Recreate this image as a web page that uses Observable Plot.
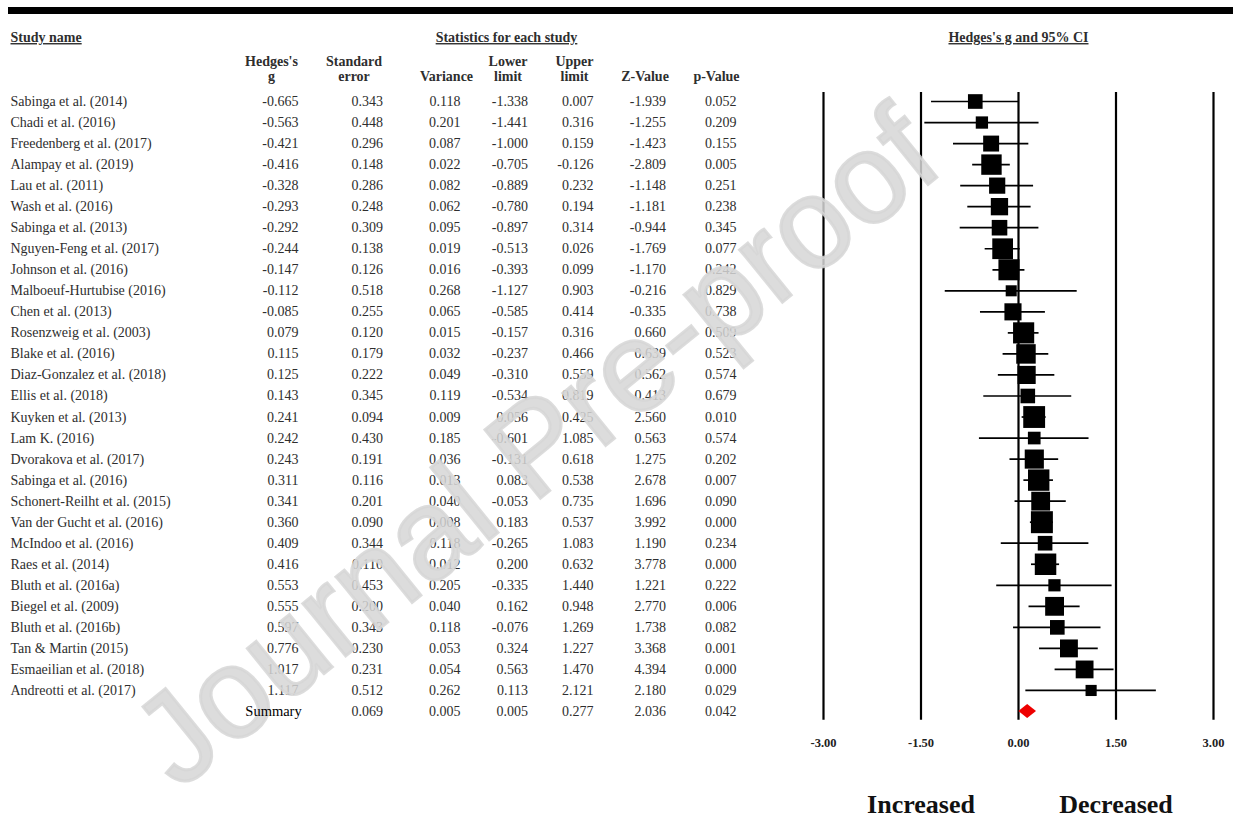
<!DOCTYPE html>
<html>
<head>
<meta charset="utf-8">
<script src="https://cdn.jsdelivr.net/npm/d3@7"></script>
<script src="https://cdn.jsdelivr.net/npm/@observablehq/plot@0.6"></script>
<style>
  body { margin: 0; background: #fff; }
  #wrap { position: relative; width: 1233px; height: 821px; overflow: hidden; background: #fff; }
  #bar { position: absolute; left: 8px; right: 0; top: 7px; height: 7px; background: #000; }
  #table, #top { position: absolute; left: 0; top: 0; }
  #top { pointer-events: none; }
  #forest { position: absolute; left: 800px; top: 0; }
  #wm { position: absolute; left: 535px; top: 446px; transform: translate(-50%, -50%) rotate(-39deg);
        font-family: "Liberation Sans", Arial, sans-serif; font-size: 128px; white-space: nowrap;
        -webkit-text-stroke: 3px rgba(214, 214, 214, 0.85);
        color: rgba(214, 214, 214, 0.85); pointer-events: none; line-height: 1; }
</style>
</head>
<body>
<div id="wrap">
  <div id="bar"></div>
  <div id="table"></div>
  <div id="forest"></div>
  <div id="wm">Journal Pre-proof</div>
  <div id="top"></div>
</div>
<script>
// ---------------- data ----------------
const studies = [
  "Sabinga et al. (2014)", "Chadi et al. (2016)", "Freedenberg et al. (2017)", "Alampay et al. (2019)",
  "Lau et al. (2011)", "Wash et al. (2016)", "Sabinga et al. (2013)", "Nguyen-Feng et al. (2017)",
  "Johnson et al. (2016)", "Malboeuf-Hurtubise (2016)", "Chen et al. (2013)", "Rosenzweig et al. (2003)",
  "Blake et al. (2016)", "Diaz-Gonzalez et al. (2018)", "Ellis et al. (2018)", "Kuyken et al. (2013)",
  "Lam K. (2016)", "Dvorakova et al. (2017)", "Sabinga et al. (2016)", "Schonert-Reilht et al. (2015)",
  "Van der Gucht et al. (2016)", "McIndoo et al. (2016)", "Raes et al. (2014)", "Bluth et al. (2016a)",
  "Biegel et al. (2009)", "Bluth et al. (2016b)", "Tan & Martin (2015)", "Esmaeilian et al. (2018)",
  "Andreotti et al. (2017)", "Summary"
];
const hedgesG = [-0.665,-0.563,-0.421,-0.416,-0.328,-0.293,-0.292,-0.244,-0.147,-0.112,-0.085,0.079,0.115,0.125,0.143,0.241,0.242,0.243,0.311,0.341,0.360,0.409,0.416,0.553,0.555,0.597,0.776,1.017,1.117,0.141];
const stdError = [0.343,0.448,0.296,0.148,0.286,0.248,0.309,0.138,0.126,0.518,0.255,0.120,0.179,0.222,0.345,0.094,0.430,0.191,0.116,0.201,0.090,0.344,0.110,0.453,0.200,0.343,0.230,0.231,0.512,0.069];
const variance = [0.118,0.201,0.087,0.022,0.082,0.062,0.095,0.019,0.016,0.268,0.065,0.015,0.032,0.049,0.119,0.009,0.185,0.036,0.013,0.040,0.008,0.118,0.012,0.205,0.040,0.118,0.053,0.054,0.262,0.005];
const lowerLimit = [-1.338,-1.441,-1.000,-0.705,-0.889,-0.780,-0.897,-0.513,-0.393,-1.127,-0.585,-0.157,-0.237,-0.310,-0.534,0.056,-0.601,-0.131,0.083,-0.053,0.183,-0.265,0.200,-0.335,0.162,-0.076,0.324,0.563,0.113,0.005];
const upperLimit = [0.007,0.316,0.159,-0.126,0.232,0.194,0.314,0.026,0.099,0.903,0.414,0.316,0.466,0.559,0.819,0.425,1.085,0.618,0.538,0.735,0.537,1.083,0.632,1.440,0.948,1.269,1.227,1.470,2.121,0.277];
const zValue = [-1.939,-1.255,-1.423,-2.809,-1.148,-1.181,-0.944,-1.769,-1.170,-0.216,-0.335,0.660,0.639,0.562,0.413,2.560,0.563,1.275,2.678,1.696,3.992,1.190,3.778,1.221,2.770,1.738,3.368,4.394,2.180,2.036];
const pValue = [0.052,0.209,0.155,0.005,0.251,0.238,0.345,0.077,0.242,0.829,0.738,0.509,0.523,0.574,0.679,0.010,0.574,0.202,0.007,0.090,0.000,0.234,0.000,0.222,0.006,0.082,0.001,0.000,0.029,0.042];

const columnKeys = ["g", "se", "var", "lower", "upper", "z", "p"];
const columnHeads = [["Hedges's", "g"], ["Standard", "error"], ["", "Variance"], ["Lower", "limit"], ["Upper", "limit"], ["", "Z-Value"], ["", "p-Value"]];
const axisTicks = [-3, -1.5, 0, 1.5, 3];
const directionLabels = ["Increased", "Decreased"];
const directionAt = [-1.5, 1.5];
const tau2 = 0.08; // between-study variance used for random-effects weights

// ---------------- table built from the arrays ----------------
const rows = studies.map((name, i) => ({
  name, i, summary: i === studies.length - 1,
  g: hedgesG[i], se: stdError[i], var: variance[i], lower: lowerLimit[i],
  upper: upperLimit[i], z: zValue[i], p: pValue[i],
  w: 1 / (variance[i] + tau2)
}));
const studyRows = rows.filter(d => !d.summary);
const summaryRow = rows.filter(d => d.summary);
const nRows = rows.length;

// ---------------- layout / style ----------------
const serif = "Liberation Serif, Times New Roman, serif";
const textGray = "#2e2e2e";
const yScale = {type: "linear", domain: [0, nRows - 1], range: [101, 711], axis: null};
const xTable = {type: "point", domain: columnKeys, range: [260, 773], axis: null};
const numDx = {g: 0, se: 11.5, var: 16, lower: 10.5, upper: 3, z: 2.5, p: 0};
const headDx = {g: -27, se: -17.5, var: 2, lower: -9.5, upper: -16, z: -18.5, p: -20};
const rowHeadTop = -3.04, rowHead1 = -1.88, rowHead2 = -1.17;
const fmt = v => v.toFixed(3);

const tableMarks = [];
tableMarks.push(Plot.text(studyRows, {frameAnchor: "left", y: "i", text: "name", textAnchor: "start",
  fontSize: 14, fill: textGray}));
columnKeys.forEach((key, k) => {
  const src = key === "g" ? studyRows : rows;
  tableMarks.push(Plot.text(src, {x: () => key, y: "i", text: d => fmt(d[key]), textAnchor: "end",
    dx: numDx[key], fontSize: 14, fill: textGray}));
  const [h1, h2] = columnHeads[k];
  if (h1) tableMarks.push(Plot.text([h1], {x: () => key, y: () => rowHead1, text: d => d,
    dx: headDx[key], fontSize: 14, fontWeight: "bold", fill: textGray}));
  tableMarks.push(Plot.text([h2], {x: () => key, y: () => rowHead2, text: d => d,
    dx: headDx[key], fontSize: 14, fontWeight: "bold", fill: textGray}));
});
tableMarks.push(Plot.text(["Study name"], {frameAnchor: "left", y: () => rowHeadTop, text: d => d,
  textAnchor: "start", fontSize: 14, fontWeight: "bold", fill: textGray}));
tableMarks.push(Plot.text(["Statistics for each study"], {x: () => "var", y: () => rowHeadTop, text: d => d,
  dx: 62, fontSize: 14, fontWeight: "bold", fill: textGray}));

const table = Plot.plot({
  width: 800, height: 821, marginLeft: 10, marginRight: 0, marginTop: 0, marginBottom: 0,
  style: {fontFamily: serif, background: "transparent"},
  x: xTable, y: yScale,
  marks: tableMarks
});
document.getElementById("table").appendChild(table);

// summary label, drawn above the watermark
const topLayer = Plot.plot({
  width: 800, height: 821, marginLeft: 10, marginRight: 0, marginTop: 0, marginBottom: 0,
  style: {fontFamily: serif, background: "transparent"},
  x: xTable, y: yScale,
  marks: [Plot.text(summaryRow, {x: () => "g", y: "i", text: "name", dx: -25, fontSize: 14.5, fill: "#000"})]
});
document.getElementById("top").appendChild(topLayer);

// ---------------- forest plot ----------------
const maxW = d3.max(studyRows, d => d.w);
const s = summaryRow[0];
const diamond = [
  {y: s.i - 0.33, x1: s.g, x2: s.g},
  {y: s.i, x1: s.lower, x2: s.upper},
  {y: s.i + 0.33, x1: s.g, x2: s.g}
];
const forest = Plot.plot({
  width: 433, height: 821, margin: 0,
  style: {fontFamily: serif, background: "transparent"},
  x: {domain: [-3, 3], range: [23, 413], axis: null},
  y: yScale,
  r: {type: "sqrt", domain: [0, maxW], range: [0, 12.4]},
  marks: [
    Plot.ruleX(axisTicks, {x: d => d, y1: () => -0.43, y2: () => nRows - 1 + 0.42, stroke: "#000", strokeWidth: 2.2}),
    Plot.ruleY(studyRows, {y: "i", x1: "lower", x2: "upper", stroke: "#000", strokeWidth: 1.7}),
    Plot.dot(studyRows, {x: "g", y: "i", r: "w", symbol: "square", fill: "#000", stroke: null}),
    Plot.areaX(diamond, {y: "y", x1: "x1", x2: "x2", fill: "#ee0000", curve: "linear"}),
    Plot.text(axisTicks, {x: d => d, y: () => nRows + 0.52, text: d => d.toFixed(2),
      fontSize: 12.5, fontWeight: "bold", fill: "#222"}),
    Plot.text(directionLabels, {x: (d, i) => directionAt[i], y: () => nRows + 3.45, text: d => d,
      fontSize: 26, fontWeight: "bold", fill: "#111"}),
    Plot.text(["Hedges's g and 95% CI"], {x: () => 0, y: () => rowHeadTop, text: d => d,
      fontSize: 14, fontWeight: "bold", fill: textGray})
  ]
});
document.getElementById("forest").appendChild(forest);

const underlined = new Set(["Study name", "Statistics for each study", "Hedges's g and 95% CI"]);
document.querySelectorAll("svg text").forEach(t => {
  if (underlined.has(t.textContent)) t.style.textDecoration = "underline";
});
</script>
</body>
</html>
